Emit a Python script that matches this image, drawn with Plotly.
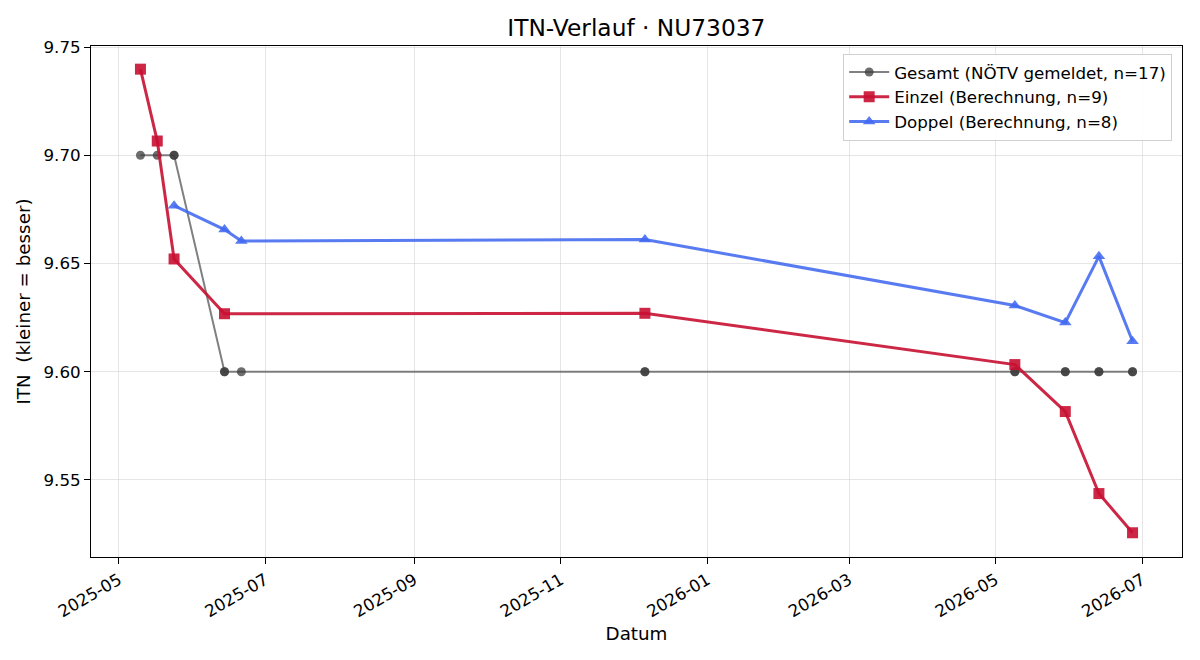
import plotly.graph_objects as go

# Gesamt (NÖTV gemeldet) – 17 entries (some dates doubled)
gesamt_dates = ["2025-05-10", "2025-05-17", "2025-05-24", "2025-05-24",
                "2025-06-14", "2025-06-14", "2025-06-21",
                "2025-12-06", "2025-12-06",
                "2026-05-09", "2026-05-09", "2026-05-30", "2026-05-30",
                "2026-06-13", "2026-06-13", "2026-06-27", "2026-06-27"]
gesamt_itn = [9.70, 9.70, 9.70, 9.70,
              9.60, 9.60, 9.60,
              9.60, 9.60,
              9.60, 9.60, 9.60, 9.60,
              9.60, 9.60, 9.60, 9.60]

einzel_dates = ["2025-05-10", "2025-05-17", "2025-05-24", "2025-06-14",
                "2025-12-06", "2026-05-09", "2026-05-30", "2026-06-13", "2026-06-27"]
einzel_itn = [9.7398, 9.7066, 9.6521, 9.6268, 9.6270, 9.6033, 9.5816, 9.5437, 9.5256]

doppel_dates = ["2025-05-24", "2025-06-14", "2025-06-21", "2025-12-06",
                "2026-05-09", "2026-05-30", "2026-06-13", "2026-06-27"]
doppel_itn = [9.6767, 9.6657, 9.6604, 9.6611, 9.6306, 9.6227, 9.6533, 9.6141]

x_ticks = ["2025-05-01", "2025-07-01", "2025-09-01", "2025-11-01",
           "2026-01-01", "2026-03-01", "2026-05-01", "2026-07-01"]
x_tick_labels = ["2025-05", "2025-07", "2025-09", "2025-11",
                 "2026-01", "2026-03", "2026-05", "2026-07"]
y_ticks = [9.55, 9.60, 9.65, 9.70, 9.75]

FONT = "DejaVu Sans"

fig = go.Figure()
fig.add_trace(go.Scatter(
    x=gesamt_dates, y=gesamt_itn, mode="lines+markers",
    name="Gesamt (NÖTV gemeldet, n=17)",
    line=dict(color="rgba(85,85,85,0.75)", width=2),
    marker=dict(symbol="circle", size=9, color="rgba(60,60,60,0.75)",
                line=dict(width=0)),
))
fig.add_trace(go.Scatter(
    x=einzel_dates, y=einzel_itn, mode="lines+markers",
    name="Einzel (Berechnung, n=9)",
    line=dict(color="rgba(200,16,50,0.9)", width=3),
    marker=dict(symbol="square", size=11, color="rgba(200,16,50,0.9)",
                line=dict(width=0)),
))
fig.add_trace(go.Scatter(
    x=doppel_dates, y=doppel_itn, mode="lines+markers",
    name="Doppel (Berechnung, n=8)",
    line=dict(color="rgba(65,105,240,0.88)", width=3),
    marker=dict(symbol="triangle-up", size=11, color="rgba(65,105,240,0.88)",
                line=dict(width=0)),
))

fig.update_layout(
    width=1200, height=660,
    margin=dict(l=91, r=18, t=46, b=103),
    paper_bgcolor="white", plot_bgcolor="white",
    font=dict(family=FONT, size=16.7, color="black"),
    title=dict(text="ITN-Verlauf · NU73037", x=0.5303, xanchor="center",
               y=0.958, yanchor="middle",
               font=dict(family=FONT, size=23.3, color="black")),
    legend=dict(x=0.991, y=0.985, xanchor="right", yanchor="top",
                bgcolor="rgba(255,255,255,0.85)", bordercolor="#d0d0d0",
                borderwidth=1, font=dict(family=FONT, size=16.7),
                itemwidth=40, tracegroupgap=0),
    showlegend=True,
)
fig.update_xaxes(
    type="date",
    range=["2025-04-19 10:00", "2026-07-17 14:00"],
    tickmode="array", tickvals=x_ticks, ticktext=x_tick_labels,
    tickangle=-30, tickfont=dict(family=FONT, size=16.7),
    ticks="outside", ticklen=6, tickcolor="black",
    showline=True, linecolor="black", linewidth=1, mirror=True,
    showgrid=True, gridcolor="rgba(200,200,200,0.45)", gridwidth=1,
    zeroline=False,
    title=dict(text="Datum", font=dict(family=FONT, size=18.3), standoff=6),
)
fig.update_yaxes(
    range=[9.5144, 9.7505],
    tickmode="array", tickvals=y_ticks, tickformat=".2f",
    tickfont=dict(family=FONT, size=16.7),
    ticks="outside", ticklen=6, tickcolor="black",
    showline=True, linecolor="black", linewidth=1, mirror=True,
    showgrid=True, gridcolor="rgba(200,200,200,0.45)", gridwidth=1,
    zeroline=False,
    title=dict(text="ITN  (kleiner = besser)", font=dict(family=FONT, size=18.3),
               standoff=8),
)

fig.write_html("out.html")
